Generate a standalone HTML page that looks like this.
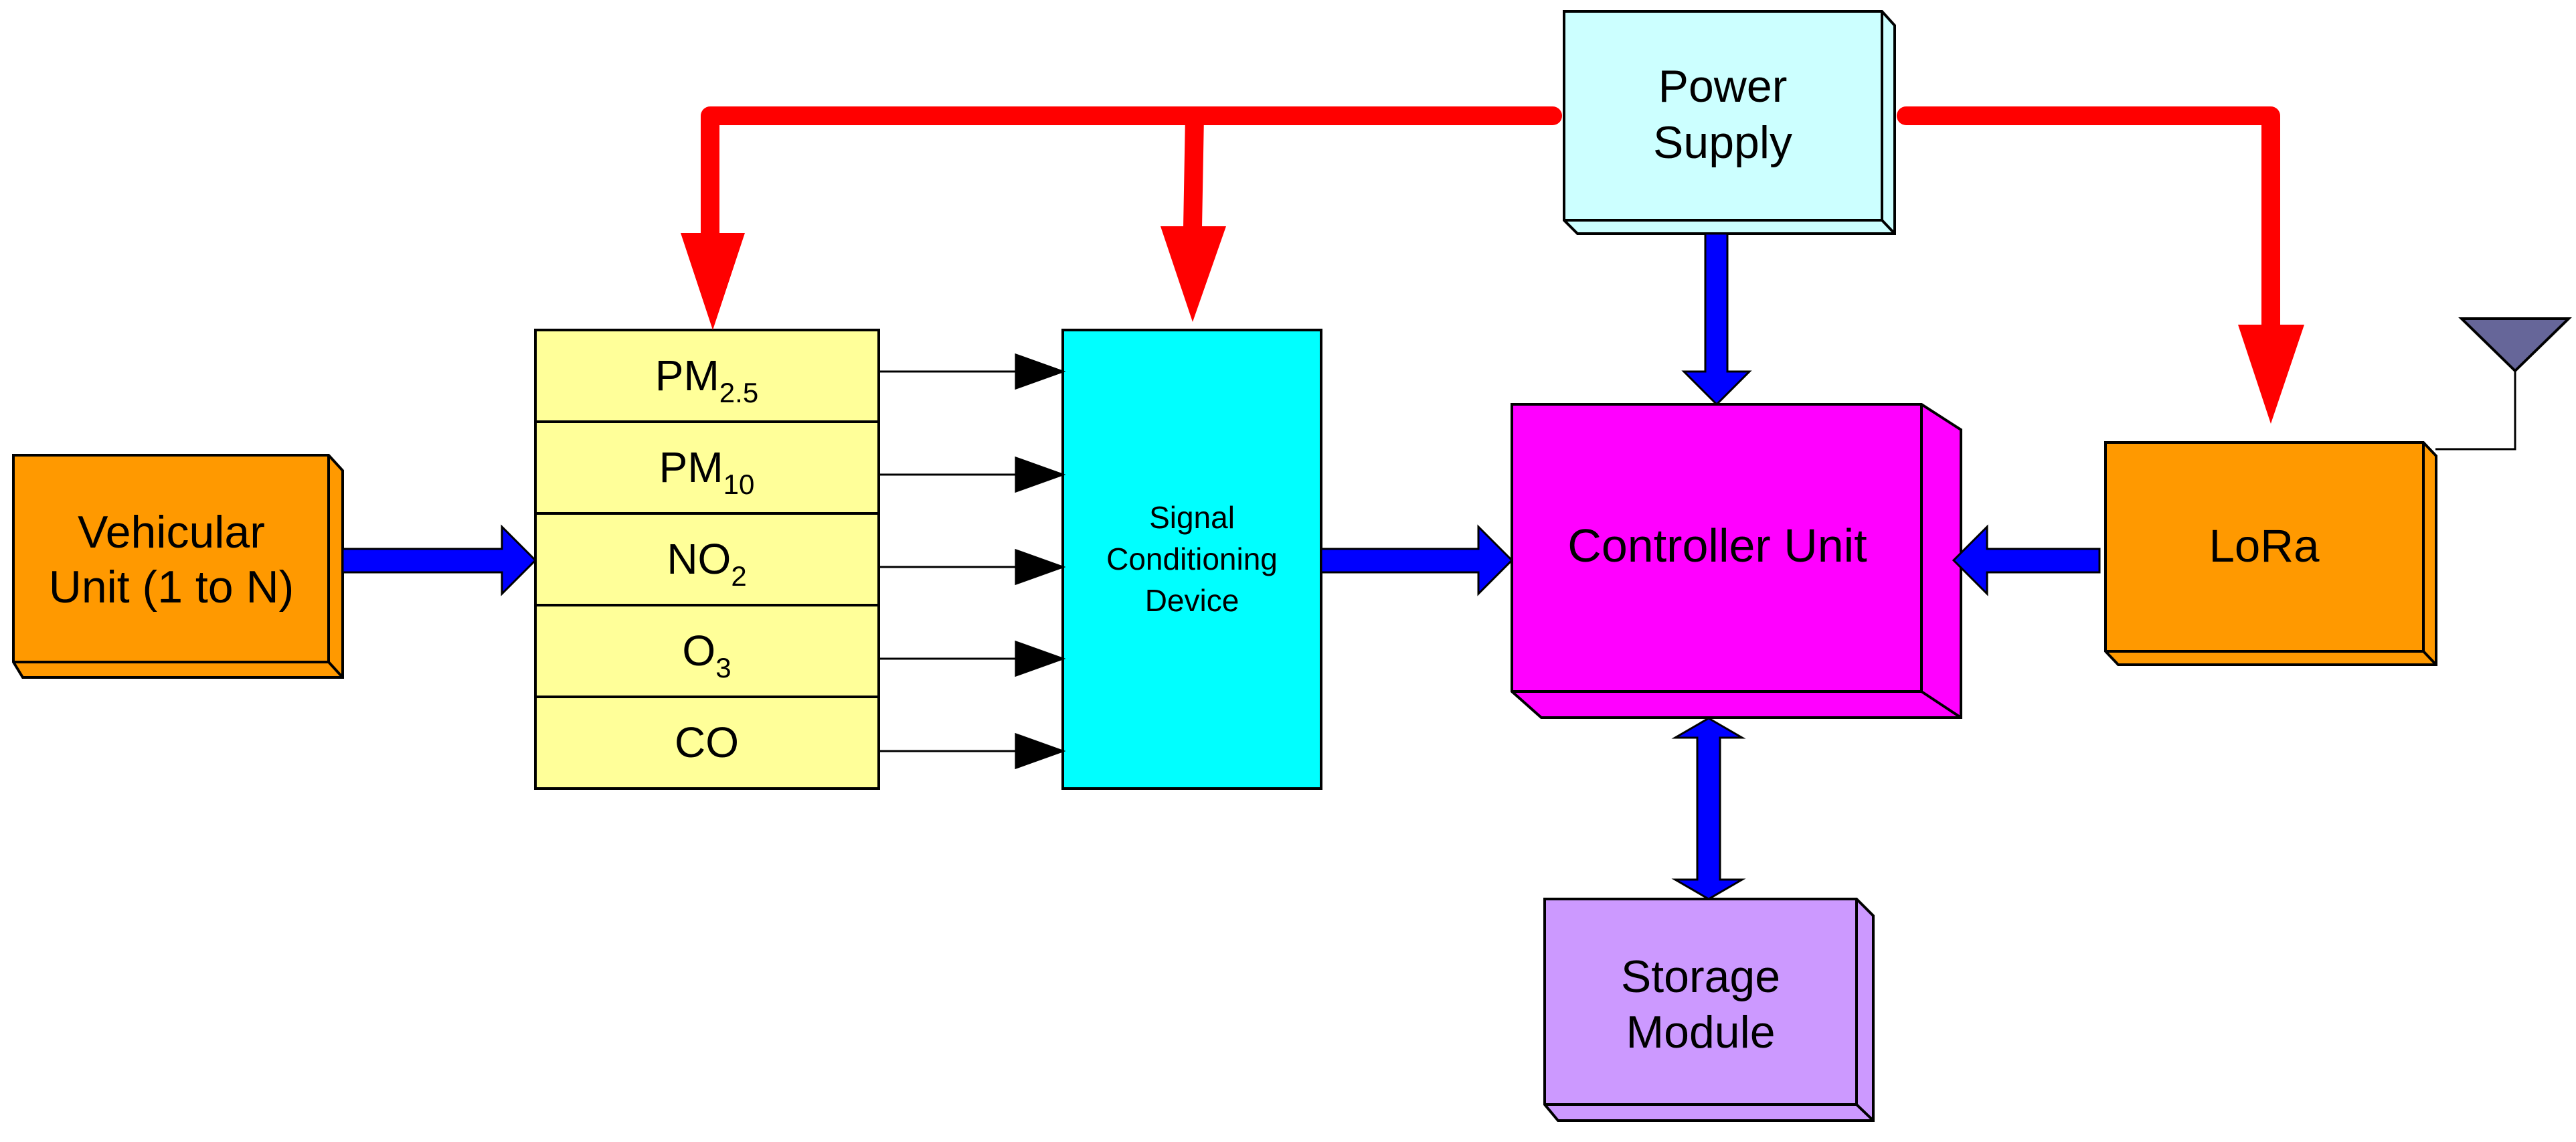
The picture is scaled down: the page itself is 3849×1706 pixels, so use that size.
<!DOCTYPE html>
<html><head><meta charset="utf-8"><style>
html,body{margin:0;padding:0;background:#fff;}
svg{display:block;}
text{font-family:"Liberation Sans",Arial,sans-serif;fill:#000;}
</style></head><body>
<svg width="3849" height="1706" viewBox="0 0 3849 1706" xmlns="http://www.w3.org/2000/svg">
<g stroke="#000" stroke-width="4" stroke-linejoin="miter">
<!-- Vehicular -->
<polygon points="20,680 491,680 512,703 512,1012 34,1012 20,989" fill="#FF9900"/>
<polyline points="491,680 491,989 20,989" fill="none"/>
<line x1="491" y1="989" x2="512" y2="1012"/>
<!-- Power Supply -->
<polygon points="2337,17 2812,17 2831,38 2831,349 2357,349 2337,329" fill="#CCFFFF"/>
<polyline points="2812,17 2812,329 2337,329" fill="none"/>
<line x1="2812" y1="329" x2="2831" y2="349"/>
<!-- Controller -->
<polygon points="2259,604 2871,604 2930,642 2930,1072 2303,1072 2259,1033" fill="#FF00FF"/>
<polyline points="2871,604 2871,1033 2259,1033" fill="none"/>
<line x1="2871" y1="1033" x2="2930" y2="1072"/>
<!-- LoRa -->
<polygon points="3146,661 3621,661 3640,681 3640,993 3165,993 3146,973" fill="#FF9900"/>
<polyline points="3621,661 3621,973 3146,973" fill="none"/>
<line x1="3621" y1="973" x2="3640" y2="993"/>
<!-- Storage -->
<polygon points="2308,1343 2774,1343 2799,1368 2799,1674 2328,1674 2308,1650" fill="#CC99FF"/>
<polyline points="2774,1343 2774,1650 2308,1650" fill="none"/>
<line x1="2774" y1="1650" x2="2799" y2="1674"/>
<!-- Yellow sensor table -->
<rect x="800" y="493" width="513" height="685" fill="#FFFF99"/>
<line x1="800" y1="630" x2="1313" y2="630"/>
<line x1="800" y1="767" x2="1313" y2="767"/>
<line x1="800" y1="904" x2="1313" y2="904"/>
<line x1="800" y1="1041" x2="1313" y2="1041"/>
<!-- Cyan -->
<rect x="1588" y="493" width="386" height="685" fill="#00FFFF"/>
<!-- Black arrows -->
<g stroke-width="3">
<line x1="1313" y1="555" x2="1520" y2="555"/><polygon points="1518,530 1588,555 1518,580" fill="#000"/>
<line x1="1313" y1="709" x2="1520" y2="709"/><polygon points="1518,684 1588,709 1518,734" fill="#000"/>
<line x1="1313" y1="847" x2="1520" y2="847"/><polygon points="1518,822 1588,847 1518,872" fill="#000"/>
<line x1="1313" y1="984" x2="1520" y2="984"/><polygon points="1518,959 1588,984 1518,1009" fill="#000"/>
<line x1="1313" y1="1122" x2="1520" y2="1122"/><polygon points="1518,1097 1588,1122 1518,1147" fill="#000"/>
</g>
<!-- Blue arrows -->
<g fill="#0000FF" stroke-width="3">
<polygon points="512,820 750,820 750,787 800,837 750,887 750,855 512,855"/>
<polygon points="1974,820 2209,820 2209,787 2259,837 2209,887 2209,855 1974,855"/>
<polygon points="3137,820 2969,820 2969,787 2919,837 2969,887 2969,855 3137,855"/>
<polygon points="2548,349 2581,349 2581,555 2614,555 2565,604 2516,555 2548,555"/>
<polygon points="2553,1073 2603,1102 2570,1102 2570,1314 2603,1314 2553,1343 2503,1314 2536,1314 2536,1102 2503,1102"/>
</g>
<!-- Antenna -->
<polygon points="3678,476 3838,476 3758,554" fill="#666699" stroke-width="4"/>
<polyline points="3758,554 3758,671 3639,671" fill="none" stroke-width="3"/>
</g>
<!-- Red power lines -->
<g fill="none" stroke="#FF0000" stroke-width="28" stroke-linecap="round" stroke-linejoin="round">
<polyline points="2320,173 1061,173 1061,350"/>
<line x1="1785" y1="173" x2="1782" y2="340"/>
<polyline points="2848,173 3393,173 3393,485"/>
</g>
<g fill="#FF0000">
<polygon points="1017,348 1113,348 1065,493"/>
<polygon points="1734,338 1832,338 1782,481"/>
<polygon points="3344,485 3443,485 3393,633"/>
</g>
<!-- Text -->
<g text-anchor="middle" font-size="68">
<text x="256" y="818">Vehicular</text>
<text x="256" y="900">Unit (1 to N)</text>
<text x="2574" y="152">Power</text>
<text x="2574" y="236">Supply</text>
<text x="2566" y="839" font-size="70">Controller Unit</text>
<text x="3383" y="839" font-size="69">LoRa</text>
<text x="2541" y="1482">Storage</text>
<text x="2541" y="1565">Module</text>
<g font-size="46">
<text x="1781" y="789">Signal</text>
<text x="1781" y="851">Conditioning</text>
<text x="1781" y="913">Device</text>
</g>
<g font-size="64">
<text x="1056" y="583">PM<tspan font-size="42" dy="18">2.5</tspan></text>
<text x="1056" y="720">PM<tspan font-size="42" dy="18">10</tspan></text>
<text x="1056" y="857">NO<tspan font-size="42" dy="18">2</tspan></text>
<text x="1056" y="994">O<tspan font-size="42" dy="18">3</tspan></text>
<text x="1056" y="1131">CO</text>
</g>
</g>
</svg>
</body></html>
